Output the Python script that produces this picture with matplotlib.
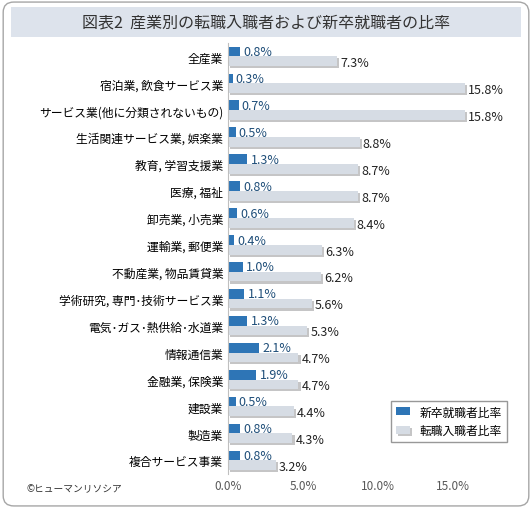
import matplotlib
matplotlib.use("Agg")
import matplotlib.pyplot as plt
import matplotlib.patches as patches
import matplotlib.patheffects as pe
import numpy as np

plt.rcParams['font.family'] = ['Noto Sans CJK JP', 'DejaVu Sans']

categories = ["全産業", "宿泊業, 飲食サービス業", "サービス業(他に分類されないもの)",
              "生活関連サービス業, 娯楽業", "教育, 学習支援業", "医療, 福祉",
              "卸売業, 小売業", "運輸業, 郵便業", "不動産業, 物品賃貸業",
              "学術研究, 専門･技術サービス業", "電気･ガス･熱供給･水道業", "情報通信業",
              "金融業, 保険業", "建設業", "製造業", "複合サービス事業"]
new_grad = [0.8, 0.3, 0.7, 0.5, 1.3, 0.8, 0.6, 0.4, 1.0, 1.1, 1.3, 2.1, 1.9, 0.5, 0.8, 0.8]
job_change = [7.3, 15.8, 15.8, 8.8, 8.7, 8.7, 8.4, 6.3, 6.2, 5.6, 5.3, 4.7, 4.7, 4.4, 4.3, 3.2]
xticks = [0, 5, 10, 15]

blue = '#2E75B6'
gray = '#D6DCE4'

fig = plt.figure(figsize=(5.32, 5.10), dpi=100)
fig.patch.set_facecolor('white')

# outer rounded frame
fig.patches.append(patches.FancyBboxPatch((0.006, 0.006), 0.988, 0.988,
                   boxstyle="round,pad=0,rounding_size=0.02", transform=fig.transFigure,
                   facecolor='white', edgecolor='#A6A6A6', linewidth=1, zorder=-10))
# title band
fig.patches.append(patches.Rectangle((0.02, 0.925), 0.96, 0.06, transform=fig.transFigure,
                   facecolor='#DDE3EC', edgecolor='none', zorder=-9))
fig.text(0.5, 0.955, "図表2  産業別の転職入職者および新卒就職者の比率", ha='center', va='center',
         fontsize=11.5, color='#333333')

ax = fig.add_axes([0.4286, 0.069, 0.535, 0.845])
ax.set_facecolor('none')
ax.set_zorder(5)
y = np.arange(len(categories))
h = 0.36
shadow = [pe.SimplePatchShadow(offset=(1.5, -1.5), alpha=0.3), pe.Normal()]
b1 = ax.barh(y - h / 2, new_grad, height=h, color=blue, label='新卒就職者比率')
b2 = ax.barh(y + h / 2, job_change, height=h, color=gray, label='転職入職者比率')
for bar in b2:
    bar.set_path_effects(shadow)
for yi, v in zip(y, new_grad):
    ax.text(v + 0.2, yi - h / 2, f"{v:.1f}%", va='center', ha='left', fontsize=9, color='#1F4E79')
for yi, v in zip(y, job_change):
    ax.text(v + 0.2, yi + h / 2 + 0.05, f"{v:.1f}%", va='center', ha='left', fontsize=9, color='#222222')

ax.set_yticks(y)
ax.set_yticklabels(categories, fontsize=8.5)
ax.set_ylim(len(categories) - 0.5, -0.5)
ax.set_xlim(0, 19)
ax.set_xticks(xticks)
ax.set_xticklabels([f"{t:.1f}%" for t in xticks], fontsize=8.5, color='#595959')
ax.tick_params(length=0)
for s in ax.spines.values():
    s.set_visible(False)
ax.spines['left'].set_visible(True)
ax.spines['left'].set_color('#BFBFBF')

leg = ax.legend(loc='lower right', bbox_to_anchor=(1.0, 0.06), fontsize=8.5,
                frameon=True, edgecolor='#7F7F7F', fancybox=False, handlelength=1.2)

fig.text(0.05, 0.035, "©ヒューマンリソシア", fontsize=7, color='#333333')

fig.savefig("out.png", dpi=100)
